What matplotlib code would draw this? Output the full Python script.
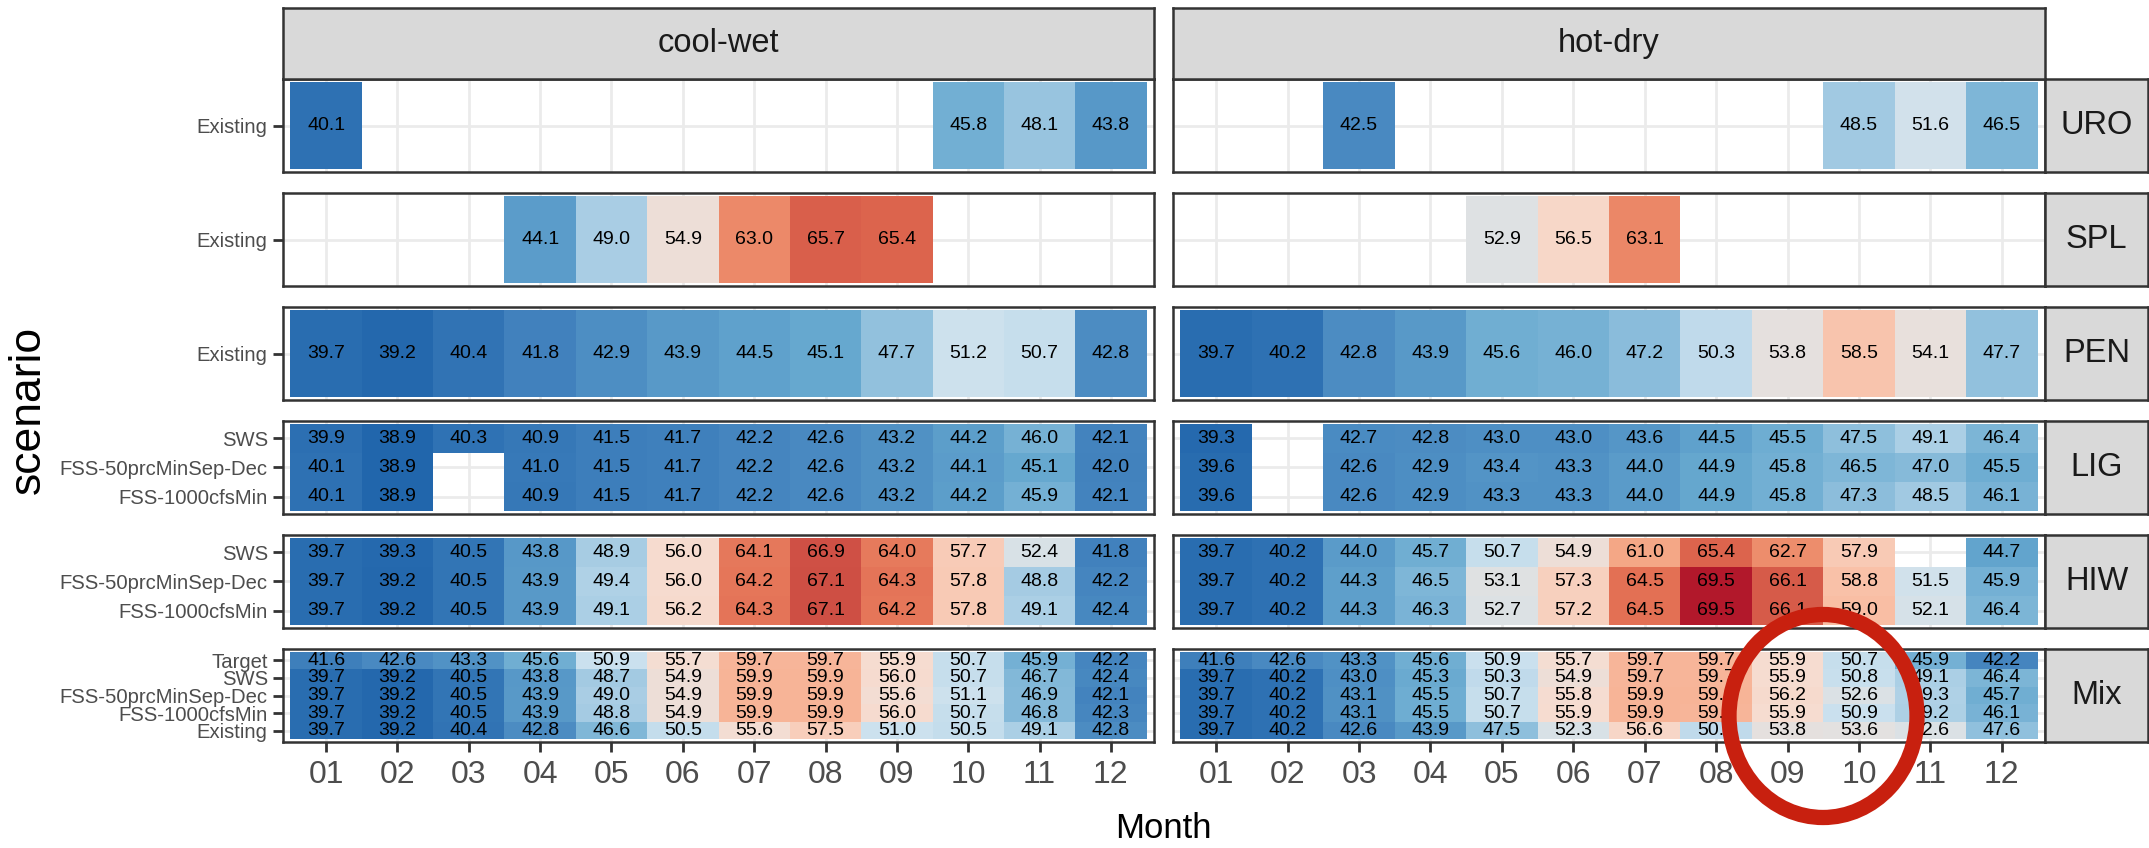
import numpy as np
import matplotlib
matplotlib.use("Agg")
import matplotlib.pyplot as plt
from matplotlib import font_manager
from matplotlib.colors import LinearSegmentedColormap, Normalize
from matplotlib.patches import Ellipse

NA = np.nan

months = ["01", "02", "03", "04", "05", "06", "07", "08", "09", "10", "11", "12"]
climates = ["cool-wet", "hot-dry"]
sites = ["URO", "SPL", "PEN", "LIG", "HIW", "Mix"]

# scenarios per site, listed top to bottom
scen_single = ["Existing"]
scen_three = ["SWS", "FSS-50prcMinSep-Dec", "FSS-1000cfsMin"]
scen_mix = ["Target", "SWS", "FSS-50prcMinSep-Dec", "FSS-1000cfsMin", "Existing"]

# URO
uro_cw_existing = [40.1, NA, NA, NA, NA, NA, NA, NA, NA, 45.8, 48.1, 43.8]
uro_hd_existing = [NA, NA, 42.5, NA, NA, NA, NA, NA, NA, 48.5, 51.6, 46.5]

# SPL
spl_cw_existing = [NA, NA, NA, 44.1, 49.0, 54.9, 63.0, 65.7, 65.4, NA, NA, NA]
spl_hd_existing = [NA, NA, NA, NA, 52.9, 56.5, 63.1, NA, NA, NA, NA, NA]

# PEN
pen_cw_existing = [39.7, 39.2, 40.4, 41.8, 42.9, 43.9, 44.5, 45.1, 47.7, 51.2, 50.7, 42.8]
pen_hd_existing = [39.7, 40.2, 42.8, 43.9, 45.6, 46.0, 47.2, 50.3, 53.8, 58.5, 54.1, 47.7]

# LIG
lig_cw_sws = [39.9, 38.9, 40.3, 40.9, 41.5, 41.7, 42.2, 42.6, 43.2, 44.2, 46.0, 42.1]
lig_cw_fss50 = [40.1, 38.9, NA, 41.0, 41.5, 41.7, 42.2, 42.6, 43.2, 44.1, 45.1, 42.0]
lig_cw_fss1000 = [40.1, 38.9, NA, 40.9, 41.5, 41.7, 42.2, 42.6, 43.2, 44.2, 45.9, 42.1]
lig_hd_sws = [39.3, NA, 42.7, 42.8, 43.0, 43.0, 43.6, 44.5, 45.5, 47.5, 49.1, 46.4]
lig_hd_fss50 = [39.6, NA, 42.6, 42.9, 43.4, 43.3, 44.0, 44.9, 45.8, 46.5, 47.0, 45.5]
lig_hd_fss1000 = [39.6, NA, 42.6, 42.9, 43.3, 43.3, 44.0, 44.9, 45.8, 47.3, 48.5, 46.1]

# HIW
hiw_cw_sws = [39.7, 39.3, 40.5, 43.8, 48.9, 56.0, 64.1, 66.9, 64.0, 57.7, 52.4, 41.8]
hiw_cw_fss50 = [39.7, 39.2, 40.5, 43.9, 49.4, 56.0, 64.2, 67.1, 64.3, 57.8, 48.8, 42.2]
hiw_cw_fss1000 = [39.7, 39.2, 40.5, 43.9, 49.1, 56.2, 64.3, 67.1, 64.2, 57.8, 49.1, 42.4]
hiw_hd_sws = [39.7, 40.2, 44.0, 45.7, 50.7, 54.9, 61.0, 65.4, 62.7, 57.9, NA, 44.7]
hiw_hd_fss50 = [39.7, 40.2, 44.3, 46.5, 53.1, 57.3, 64.5, 69.5, 66.1, 58.8, 51.5, 45.9]
hiw_hd_fss1000 = [39.7, 40.2, 44.3, 46.3, 52.7, 57.2, 64.5, 69.5, 66.1, 59.0, 52.1, 46.4]

# Mix
mix_cw_target = [41.6, 42.6, 43.3, 45.6, 50.9, 55.7, 59.7, 59.7, 55.9, 50.7, 45.9, 42.2]
mix_cw_sws = [39.7, 39.2, 40.5, 43.8, 48.7, 54.9, 59.9, 59.9, 56.0, 50.7, 46.7, 42.4]
mix_cw_fss50 = [39.7, 39.2, 40.5, 43.9, 49.0, 54.9, 59.9, 59.9, 55.6, 51.1, 46.9, 42.1]
mix_cw_fss1000 = [39.7, 39.2, 40.5, 43.9, 48.8, 54.9, 59.9, 59.9, 56.0, 50.7, 46.8, 42.3]
mix_cw_existing = [39.7, 39.2, 40.4, 42.8, 46.6, 50.5, 55.6, 57.5, 51.0, 50.5, 49.1, 42.8]
mix_hd_target = [41.6, 42.6, 43.3, 45.6, 50.9, 55.7, 59.7, 59.7, 55.9, 50.7, 45.9, 42.2]
mix_hd_sws = [39.7, 40.2, 43.0, 45.3, 50.3, 54.9, 59.7, 59.7, 55.9, 50.8, 49.1, 46.4]
mix_hd_fss50 = [39.7, 40.2, 43.1, 45.5, 50.7, 55.8, 59.9, 59.9, 56.2, 52.6, 49.3, 45.7]
mix_hd_fss1000 = [39.7, 40.2, 43.1, 45.5, 50.7, 55.9, 59.9, 59.8, 55.9, 50.9, 49.2, 46.1]
mix_hd_existing = [39.7, 40.2, 42.6, 43.9, 47.5, 52.3, 56.6, 50.3, 53.8, 53.6, 52.6, 47.6]

scenarios = {"URO": scen_single, "SPL": scen_single, "PEN": scen_single,
             "LIG": scen_three, "HIW": scen_three, "Mix": scen_mix}
data = {
    "URO": {"cool-wet": [uro_cw_existing], "hot-dry": [uro_hd_existing]},
    "SPL": {"cool-wet": [spl_cw_existing], "hot-dry": [spl_hd_existing]},
    "PEN": {"cool-wet": [pen_cw_existing], "hot-dry": [pen_hd_existing]},
    "LIG": {"cool-wet": [lig_cw_sws, lig_cw_fss50, lig_cw_fss1000],
            "hot-dry": [lig_hd_sws, lig_hd_fss50, lig_hd_fss1000]},
    "HIW": {"cool-wet": [hiw_cw_sws, hiw_cw_fss50, hiw_cw_fss1000],
            "hot-dry": [hiw_hd_sws, hiw_hd_fss50, hiw_hd_fss1000]},
    "Mix": {"cool-wet": [mix_cw_target, mix_cw_sws, mix_cw_fss50, mix_cw_fss1000, mix_cw_existing],
            "hot-dry": [mix_hd_target, mix_hd_sws, mix_hd_fss50, mix_hd_fss1000, mix_hd_existing]},
}

# colour scale (blue -> red diverging)
vmin, vmax = 38.9, 69.5
anchor_vals = [38.9, 42.0, 45.0, 48.0, 51.0, 53.5, 56.0, 59.0, 62.0, 65.0, 67.5, 69.5]
anchor_cols = ["#2166AC", "#4383BE", "#66A8CF", "#98C4DF", "#CCE1EE", "#E3E1E0",
               "#F6DCD0", "#F9BFA5", "#F29A76", "#E0694F", "#CB4A42", "#B2182B"]
cmap = LinearSegmentedColormap.from_list(
    "temp", [((v - vmin) / (vmax - vmin), c) for v, c in zip(anchor_vals, anchor_cols)])
norm = Normalize(vmin, vmax)

# fonts: a narrow face if there is one, otherwise regular at in-between sizes
installed = {f.name for f in font_manager.fontManager.ttflist}
if "Liberation Sans Narrow" in installed:
    narrow = "Liberation Sans Narrow"
    fs_cell, fs_ytick, fs_xtick, fs_strip = 15.5, 17.3, 25, 25
else:
    narrow = "Liberation Sans"
    fs_cell, fs_ytick, fs_xtick, fs_strip = 14, 14.6, 23, 23.5
regular = "Liberation Sans"

W, H = 2149, 848
fig = plt.figure(figsize=(W / 100, H / 100), dpi=100)

col_x = [(283, 1154), (1173, 2045)]
row_top = [79, 193, 307, 421, 535, 649]
row_h = 93
dark = "#333333"

for r, site in enumerate(sites):
    names = scenarios[site]
    n = len(names)
    for c, clim in enumerate(climates):
        grid = np.array(data[site][clim], dtype=float)[::-1]
        x0, x1 = col_x[c]
        ax = fig.add_axes([x0 / W, 1 - (row_top[r] + row_h) / H, (x1 - x0) / W, row_h / H])
        ax.pcolormesh(np.arange(0.5, 13.0), np.arange(0.5, n + 1.0), np.ma.masked_invalid(grid),
                      cmap=cmap, norm=norm, zorder=1)
        for j in range(n):
            for i in range(12):
                v = grid[j, i]
                if not np.isnan(v):
                    ax.text(i + 1, j + 1, f"{v:.1f}", ha="center", va="center",
                            fontsize=fs_cell, family=narrow, color="black", zorder=3)
        ax.set_xlim(0.5 - 0.105, 12.5 + 0.105)
        ax.set_ylim(0.5 - 0.03 * n, n + 0.5 + 0.03 * n)
        ax.set_xticks(range(1, 13))
        ax.set_yticks(range(1, n + 1))
        ax.grid(True, color="#EBEBEB", lw=2)
        ax.set_axisbelow(True)
        ax.tick_params(length=7, width=2, color=dark, labelcolor="#4D4D4D")
        if c == 0:
            ax.set_yticklabels(names[::-1], fontsize=fs_ytick, family=narrow)
            ax.tick_params(axis="y", pad=4)
        else:
            ax.tick_params(axis="y", left=False, labelleft=False)
        if r == len(sites) - 1:
            ax.set_xticklabels(months, fontsize=fs_xtick, family=narrow)
            ax.tick_params(axis="x", pad=6)
        else:
            ax.tick_params(axis="x", bottom=False, labelbottom=False)
        for s in ax.spines.values():
            s.set_color(dark)
            s.set_linewidth(1.8)

    # facet strip on the right
    sx = fig.add_axes([2045 / W, 1 - (row_top[r] + row_h) / H, 103 / W, row_h / H])
    sx.set_facecolor("#D9D9D9")
    sx.set_xticks([])
    sx.set_yticks([])
    for s in sx.spines.values():
        s.set_color(dark)
        s.set_linewidth(1.8)
    sx.text(0.5, 0.5, site, ha="center", va="center", transform=sx.transAxes,
            fontsize=fs_strip, family=narrow, color="#1A1A1A")

# facet strips on top
for c, clim in enumerate(climates):
    x0, x1 = col_x[c]
    tx = fig.add_axes([x0 / W, 1 - 79 / H, (x1 - x0) / W, 71 / H])
    tx.set_facecolor("#D9D9D9")
    tx.set_xticks([])
    tx.set_yticks([])
    for s in tx.spines.values():
        s.set_color(dark)
        s.set_linewidth(1.8)
    tx.text(0.5, 0.5, clim, ha="center", va="center", transform=tx.transAxes,
            fontsize=fs_strip, family=narrow, color="#1A1A1A")

fig.text(1163 / W, 1 - 829 / H, "Month", ha="center", va="center", fontsize=25, family=regular)
fig.text(28 / W, 1 - 410 / H, "scenario", ha="center", va="center", rotation=90,
         fontsize=32, family=regular)

# red highlight circle
fig.add_artist(Ellipse((1823 / W, 1 - 716 / H), 188 / W, 203 / H, transform=fig.transFigure,
                       fill=False, ec="#C8200F", lw=11, zorder=10))

fig.savefig("out.png", dpi=100)
